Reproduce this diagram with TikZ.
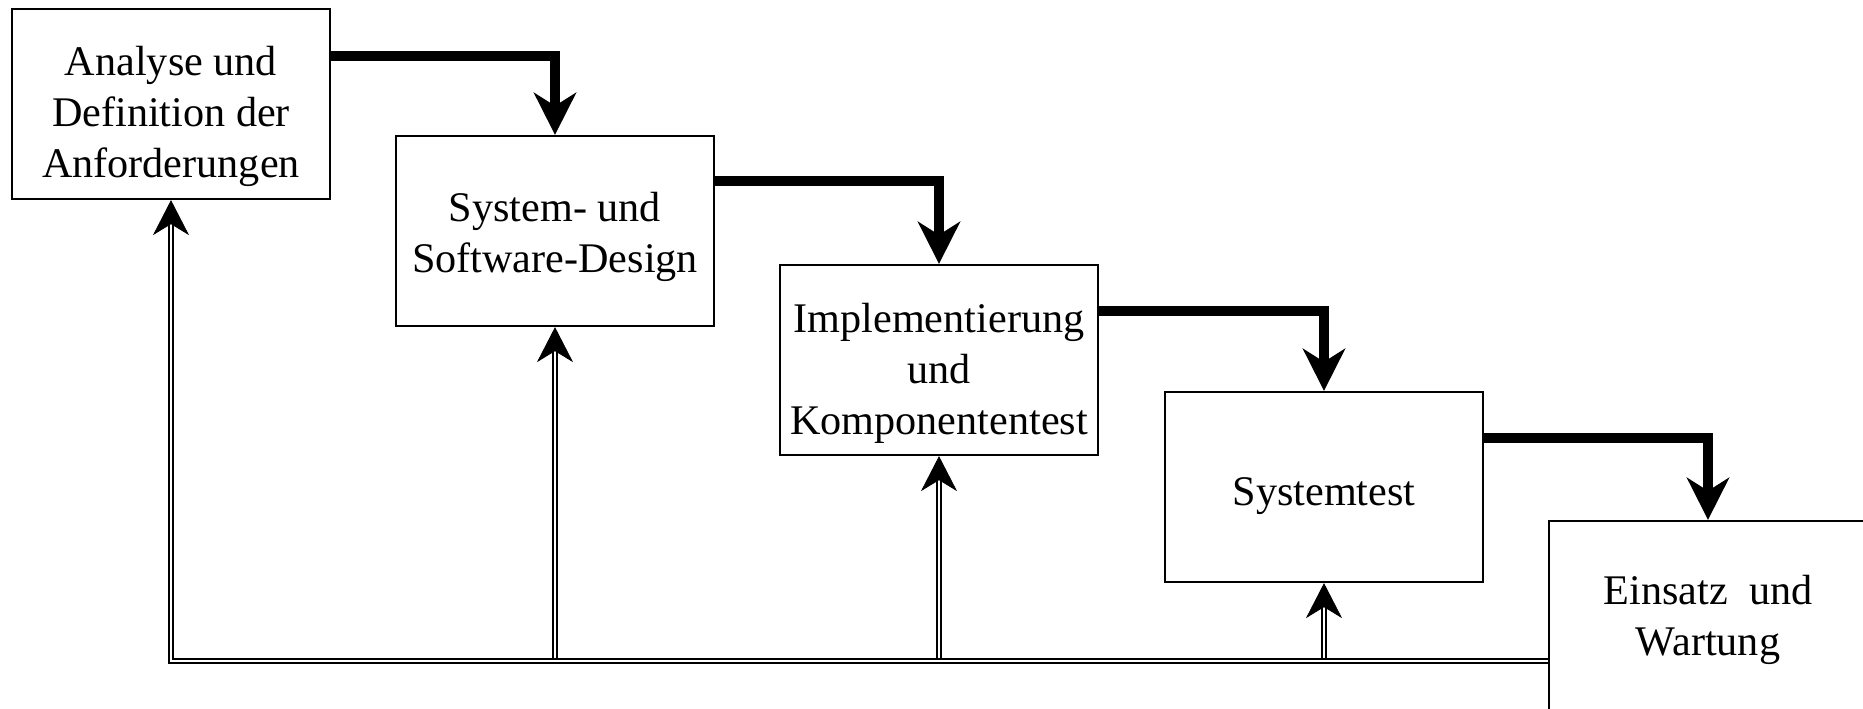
\documentclass[tikz,border=0pt]{standalone}
\usepackage{fontspec}
\setmainfont{Liberation Serif}
\usetikzlibrary{arrows.meta}
\begin{document}
\begin{tikzpicture}[x=0.01cm,y=-0.01cm,
  box/.style={draw,line width=0.6pt,minimum width=3.18cm,minimum height=1.9cm,inner sep=0pt},
  txt/.style={inner sep=0pt,align=center,font=\fontsize{12}{14.5}\selectfont},
  flow/.style={line width=0.1cm,-{Stealth[length=0.42cm,width=0.42cm,inset=0.13cm]}},
  fb/.style={double,double distance=0.022cm,line width=0.02cm},
  fbtip/.style={line width=0.2pt,-{Stealth[length=0.35cm,width=0.36cm,inset=0.11cm]}}]
\useasboundingbox (0,0) rectangle (1863,709);
\node[box] (B1) at (171,104) {};
\node[box] (B2) at (555,231) {};
\node[box] (B3) at (939,360) {};
\node[box] (B4) at (1324,487) {};
\node[box] (B5) at (1708,616) {};
\node[txt] (T1) at ([yshift=-0.12cm]B1.center) {Analyse und\\Definition der\\Anforderungen};
\node[txt] (T2) at ([yshift=-0.06cm]B2.center) {System- und\\Software-Design};
\node[txt] (T3) at ([yshift=-0.13cm]B3.center) {Implementierung\\und\\Komponententest};
\node[txt] (T4) at ([yshift=-0.09cm]B4.center) {Systemtest};
\node[txt] (T5) at ([yshift=-0.04cm]B5.center) {Einsatz\ \ und\\Wartung};
% flow arrows
\draw[flow] ([yshift=-0.48cm]B1.north east) -| (B2.north);
\draw[flow] ([yshift=-0.46cm]B2.north east) -| (B3.north);
\draw[flow] ([yshift=-0.47cm]B3.north east) -| (B4.north);
\draw[flow] ([yshift=-0.47cm]B4.north east) -| (B5.north);
% feedback bus
\coordinate (bus) at (0,661);
\coordinate (j2) at (B2.south |- bus);
\coordinate (j3) at (B3.south |- bus);
\coordinate (j4) at (B4.south |- bus);
\draw[fb] (B5.west |- bus) -- (B1.south |- bus) -- ([yshift=-0.22cm]B1.south);
\draw[fbtip] ([yshift=-0.22cm]B1.south) -- (B1.south);
\draw[fb] ([yshift=0.03cm]j2) -- ([yshift=-0.22cm]B2.south);
\draw[fbtip] ([yshift=-0.22cm]B2.south) -- (B2.south);
\draw[fb] ([yshift=0.03cm]j3) -- ([yshift=-0.22cm]B3.south);
\draw[fbtip] ([yshift=-0.22cm]B3.south) -- (B3.south);
\draw[fb] ([yshift=0.03cm]j4) -- ([yshift=-0.22cm]B4.south);
\draw[fbtip] ([yshift=-0.22cm]B4.south) -- (B4.south);
\end{tikzpicture}
\end{document}
